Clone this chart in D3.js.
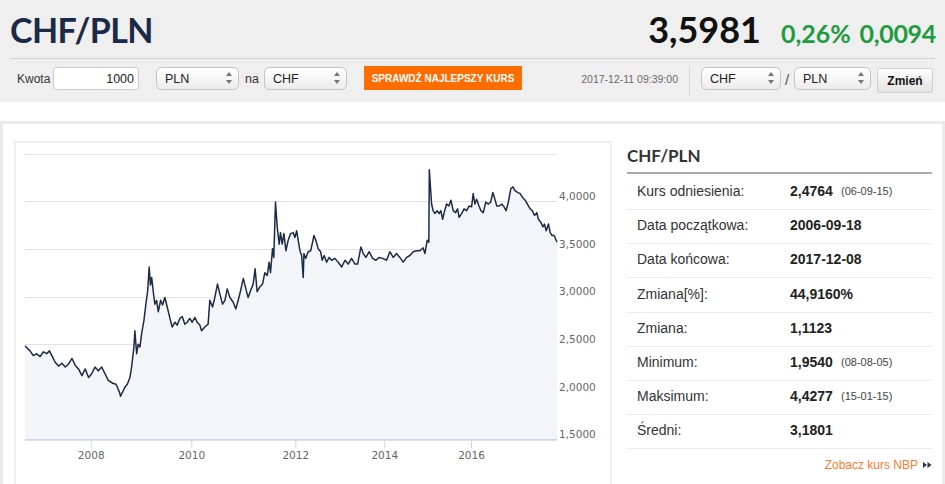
<!DOCTYPE html>
<html>
<head>
<meta charset="utf-8">
<script src="https://cdn.jsdelivr.net/npm/d3@7"></script>
<style>
  body { margin: 0; background: #fff; }
  svg { display: block; }
</style>
</head>
<body>
<svg id="chart" width="945" height="484"></svg>
<script>
// ---- data ----
const series = [
  ["2006-09-18", 2.48], ["2006-10-24", 2.43], ["2006-11-16", 2.38], ["2006-12-11", 2.40],
  ["2007-01-04", 2.37], ["2007-01-28", 2.42], ["2007-02-21", 2.40], ["2007-03-12", 2.43],
  ["2007-03-29", 2.38], ["2007-04-22", 2.31], ["2007-05-16", 2.27], ["2007-06-09", 2.30],
  ["2007-07-03", 2.26], ["2007-07-26", 2.29], ["2007-08-20", 2.35], ["2007-09-12", 2.28],
  ["2007-10-06", 2.24], ["2007-10-30", 2.17], ["2007-11-23", 2.24], ["2007-12-17", 2.15],
  ["2008-01-08", 2.19], ["2008-02-01", 2.26], ["2008-02-25", 2.22], ["2008-03-21", 2.26],
  ["2008-04-14", 2.19], ["2008-05-08", 2.12], ["2008-06-09", 2.09], ["2008-07-03", 2.08],
  ["2008-07-27", 2.00], ["2008-08-05", 1.954], ["2008-09-06", 2.05], ["2008-09-23", 2.08],
  ["2008-10-12", 2.15], ["2008-10-24", 2.26], ["2008-11-10", 2.47], ["2008-11-17", 2.64],
  ["2008-11-30", 2.40], ["2008-12-11", 2.50], ["2008-12-24", 2.47], ["2009-01-05", 2.61],
  ["2009-01-22", 2.75], ["2009-02-05", 2.92], ["2009-02-18", 3.06], ["2009-03-01", 3.31],
  ["2009-03-10", 3.12], ["2009-03-19", 3.20], ["2009-03-30", 3.06], ["2009-04-11", 2.92],
  ["2009-04-24", 2.96], ["2009-05-06", 2.84], ["2009-05-23", 2.96], ["2009-06-06", 2.91],
  ["2009-06-23", 2.99], ["2009-07-10", 2.89], ["2009-07-30", 2.77], ["2009-08-15", 2.68],
  ["2009-09-04", 2.73], ["2009-09-20", 2.70], ["2009-10-10", 2.77], ["2009-10-27", 2.79],
  ["2009-11-15", 2.71], ["2009-12-02", 2.73], ["2009-12-21", 2.77], ["2010-01-07", 2.73],
  ["2010-01-27", 2.78], ["2010-02-11", 2.73], ["2010-03-02", 2.70], ["2010-03-14", 2.64],
  ["2010-04-06", 2.68], ["2010-04-29", 2.71], ["2010-05-11", 2.96], ["2010-05-30", 2.89],
  ["2010-06-15", 2.99], ["2010-07-04", 3.13], ["2010-07-20", 3.03], ["2010-08-08", 2.92],
  ["2010-08-25", 2.96], ["2010-09-10", 3.08], ["2010-09-29", 2.99], ["2010-10-22", 2.94],
  ["2010-11-10", 2.87], ["2010-11-26", 2.96], ["2010-12-13", 3.06], ["2011-01-01", 3.19],
  ["2011-01-19", 3.08], ["2011-02-04", 2.99], ["2011-02-21", 3.06], ["2011-03-11", 3.13],
  ["2011-03-25", 3.29], ["2011-04-08", 3.05], ["2011-04-27", 3.10], ["2011-05-16", 3.13],
  ["2011-06-01", 3.25], ["2011-06-18", 3.22], ["2011-07-01", 3.36], ["2011-07-11", 3.25],
  ["2011-07-25", 3.50], ["2011-08-03", 3.41], ["2011-08-15", 3.99], ["2011-08-27", 3.73],
  ["2011-09-10", 3.55], ["2011-09-19", 3.67], ["2011-10-01", 3.55], ["2011-10-13", 3.66],
  ["2011-10-27", 3.48], ["2011-11-12", 3.59], ["2011-11-29", 3.66], ["2011-12-17", 3.67],
  ["2011-12-30", 3.62], ["2012-01-12", 3.69], ["2012-01-25", 3.59], ["2012-02-08", 3.48],
  ["2012-02-22", 3.43], ["2012-03-06", 3.20], ["2012-03-12", 3.45], ["2012-03-26", 3.40],
  ["2012-04-16", 3.47], ["2012-05-06", 3.48], ["2012-05-22", 3.57], ["2012-06-02", 3.64],
  ["2012-06-18", 3.59], ["2012-07-07", 3.50], ["2012-07-27", 3.47], ["2012-08-09", 3.38],
  ["2012-08-25", 3.43], ["2012-09-14", 3.36], ["2012-10-05", 3.41], ["2012-10-25", 3.38],
  ["2012-11-21", 3.40], ["2012-12-18", 3.36], ["2013-01-16", 3.31], ["2013-02-12", 3.38],
  ["2013-03-11", 3.34], ["2013-04-07", 3.40], ["2013-05-05", 3.34], ["2013-05-27", 3.34],
  ["2013-06-23", 3.52], ["2013-07-12", 3.45], ["2013-08-03", 3.41], ["2013-08-30", 3.47],
  ["2013-09-27", 3.40], ["2013-10-24", 3.38], ["2013-11-20", 3.41], ["2013-12-18", 3.40],
  ["2014-01-20", 3.38], ["2014-02-17", 3.47], ["2014-03-17", 3.41], ["2014-04-14", 3.45],
  ["2014-05-12", 3.41], ["2014-06-09", 3.36], ["2014-07-08", 3.41], ["2014-08-04", 3.43],
  ["2014-09-01", 3.47], ["2014-09-30", 3.48], ["2014-10-28", 3.48], ["2014-11-24", 3.51],
  ["2014-12-09", 3.45], ["2014-12-28", 3.59], ["2015-01-11", 3.57], ["2015-01-15", 4.33],
  ["2015-02-03", 3.97], ["2015-02-16", 3.90], ["2015-03-03", 3.87], ["2015-03-22", 3.90],
  ["2015-04-08", 3.87], ["2015-04-22", 3.90], ["2015-05-07", 3.81], ["2015-05-20", 3.88],
  ["2015-06-09", 3.97], ["2015-06-29", 3.95], ["2015-07-16", 4.01], ["2015-08-04", 3.90],
  ["2015-08-24", 3.88], ["2015-09-10", 3.92], ["2015-09-23", 3.83], ["2015-10-14", 3.87],
  ["2015-11-04", 3.92], ["2015-11-25", 3.90], ["2015-12-17", 3.95], ["2016-01-06", 3.94],
  ["2016-01-19", 4.08], ["2016-02-02", 3.97], ["2016-02-16", 4.02], ["2016-03-07", 3.95],
  ["2016-03-23", 3.90], ["2016-04-11", 3.88], ["2016-05-01", 3.99], ["2016-05-23", 3.97],
  ["2016-06-11", 3.99], ["2016-06-28", 4.09], ["2016-07-11", 4.04], ["2016-07-31", 3.95],
  ["2016-08-19", 3.95], ["2016-09-10", 3.97], ["2016-09-29", 3.94], ["2016-10-15", 3.90],
  ["2016-11-03", 3.99], ["2016-11-23", 4.13], ["2016-12-10", 4.15], ["2016-12-28", 4.11],
  ["2017-01-20", 4.09], ["2017-02-08", 4.08], ["2017-02-27", 4.04], ["2017-03-21", 4.01],
  ["2017-04-09", 3.97], ["2017-05-01", 3.92], ["2017-05-20", 3.90], ["2017-06-06", 3.85],
  ["2017-06-25", 3.88], ["2017-07-08", 3.81], ["2017-07-28", 3.78], ["2017-08-14", 3.73],
  ["2017-08-27", 3.76], ["2017-09-10", 3.69], ["2017-09-29", 3.76], ["2017-10-13", 3.67],
  ["2017-10-29", 3.64], ["2017-11-15", 3.64], ["2017-12-01", 3.59], ["2017-12-08", 3.57]
];

const yTicks = [1.5, 2, 2.5, 3, 3.5, 4, 4.5];
const xTickYears = [2008, 2010, 2012, 2014, 2016];

const pairName = "CHF/PLN";
const lastRate = "3,5981";
const changePct = "0,26%";
const changeAbs = "0,0094";
const quoteTime = "2017-12-11 09:39:00";

const statLabels = ["Kurs odniesienia:", "Data początkowa:", "Data końcowa:", "Zmiana[%]:",
                    "Zmiana:", "Minimum:", "Maksimum:", "Średni:"];
const statValues = ["2,4764", "2006-09-18", "2017-12-08", "44,9160%",
                    "1,1123", "1,9540", "4,4277", "3,1801"];
const statNotes  = ["(06-09-15)", "", "", "", "", "(08-08-05)", "(15-01-15)", ""];

// ---- setup ----
const svg = d3.select("#chart");
const sans = "'Liberation Sans', Arial, sans-serif";
const hfont = "Lato, 'Open Sans', sans-serif";
const axisFont = "'DejaVu Sans', Verdana, sans-serif";

const defs = svg.append("defs");
let g1 = defs.append("linearGradient").attr("id", "selGrad").attr("x1", 0).attr("y1", 0).attr("x2", 0).attr("y2", 1);
g1.append("stop").attr("offset", "0%").attr("stop-color", "#ffffff");
g1.append("stop").attr("offset", "100%").attr("stop-color", "#ececec");
let g2 = defs.append("linearGradient").attr("id", "btnGrad").attr("x1", 0).attr("y1", 0).attr("x2", 0).attr("y2", 1);
g2.append("stop").attr("offset", "0%").attr("stop-color", "#ffffff");
g2.append("stop").attr("offset", "100%").attr("stop-color", "#e2e2e2");

// ---- header ----
svg.append("rect").attr("x", 0).attr("y", 0).attr("width", 945).attr("height", 102).attr("fill", "#efefef");

svg.append("text").attr("x", 10).attr("y", 43)
  .style("font", `700 34px ${hfont}`).style("letter-spacing", "-0.6px")
  .attr("fill", "#1b2a47").text(pairName);
svg.append("text").attr("x", 761).attr("y", 43).attr("text-anchor", "end")
  .style("font", `700 36px ${hfont}`).attr("fill", "#111").text(lastRate);
svg.append("text").attr("x", 781).attr("y", 43)
  .style("font", `700 25px ${hfont}`).attr("fill", "#1e9b40").text(changePct);
svg.append("text").attr("x", 936).attr("y", 43).attr("text-anchor", "end")
  .style("font", `700 25px ${hfont}`).style("letter-spacing", "-0.3px").attr("fill", "#1e9b40").text(changeAbs);

svg.append("line").attr("x1", 10).attr("x2", 935).attr("y1", 58.5).attr("y2", 58.5)
  .attr("stroke", "#d3d3d3");

function label(x, y, txt, opts = {}) {
  return svg.append("text").attr("x", x).attr("y", y)
    .attr("text-anchor", opts.anchor || "start")
    .style("font", `${opts.weight || 400} ${opts.size || 12}px ${opts.family || sans}`)
    .attr("fill", opts.color || "#333").text(txt);
}

function selectBox(x, w, txt) {
  svg.append("rect").attr("x", x + 0.5).attr("y", 67.5).attr("width", w).attr("height", 22)
    .attr("rx", 5).attr("fill", "url(#selGrad)").attr("stroke", "#c3c3c3");
  label(x + 9, 82.5, txt, { size: 12.5, color: "#222" });
  const ax = x + w - 9;
  svg.append("path").attr("d", `M${ax - 3},76 L${ax + 3},76 L${ax},72 Z M${ax - 3},80 L${ax + 3},80 L${ax},84 Z`)
    .attr("fill", "#777");
}

label(17, 82.5, "Kwota");
svg.append("rect").attr("x", 53.5).attr("y", 67.5).attr("width", 85).attr("height", 22)
  .attr("rx", 3).attr("fill", "#fff").attr("stroke", "#cbcbcb");
label(134, 83, "1000", { anchor: "end", size: 12.5, color: "#222" });

selectBox(156, 82, "PLN");
label(245, 82.5, "na", { size: 12.5 });
selectBox(264, 82, "CHF");

svg.append("rect").attr("x", 364).attr("y", 66).attr("width", 158).attr("height", 24).attr("fill", "#ff6c00");
label(443, 82, "SPRAWDŹ NAJLEPSZY KURS", { anchor: "middle", size: 10, weight: 700, color: "#fff" });

label(678, 82.5, quoteTime, { anchor: "end", size: 10.5, color: "#6a6a6a" });
svg.append("line").attr("x1", 689.5).attr("x2", 689.5).attr("y1", 66).attr("y2", 95).attr("stroke", "#d6d6d6");

selectBox(701, 79, "CHF");
label(785, 85, "/", { size: 15, color: "#555" });
selectBox(794, 76, "PLN");

svg.append("rect").attr("x", 877.5).attr("y", 68.5).attr("width", 55).attr("height", 24)
  .attr("rx", 2).attr("fill", "url(#btnGrad)").attr("stroke", "#cfcfcf");
label(905, 85, "Zmień", { anchor: "middle", size: 12, weight: 700, color: "#111" });

// ---- panels ----
svg.append("rect").attr("x", 1.5).attr("y", 122.5).attr("width", 942).attr("height", 380)
  .attr("fill", "#fff").attr("stroke", "#ebebeb").attr("stroke-width", 3);
svg.append("rect").attr("x", 15).attr("y", 142).attr("width", 596).attr("height", 360)
  .attr("fill", "#fff").attr("stroke", "#f0f0f0").attr("stroke-width", 2);

// ---- chart ----
const parse = d3.timeParse("%Y-%m-%d");
const data = series.map(d => ({ date: parse(d[0]), value: d[1] }));

// Highcharts' ordinal axis is not uniform in time; piecewise anchors follow the year ticks
const xAnchorDates = ["2006-09-18", "2008-01-01", "2010-01-01", "2012-01-01", "2014-01-01", "2016-01-01", "2017-12-08"].map(parse);
const xAnchorPx = [25, 90.7, 191.3, 295.3, 384.3, 471, 557];
const x = d3.scaleTime().domain(xAnchorDates).range(xAnchorPx);
const y = d3.scaleLinear().domain([1.5, 4.5]).range([439.5, 153.5]);

const plot = svg.append("g");

plot.selectAll("line.grid").data(yTicks).join("line").attr("class", "grid")
  .attr("x1", 25).attr("x2", 557).attr("y1", d => Math.round(y(d)) + 0.5).attr("y2", d => Math.round(y(d)) + 0.5)
  .attr("stroke", "#e2e2e2");

const area = d3.area().x(d => x(d.date)).y0(y(1.5)).y1(d => y(d.value));
plot.append("path").datum(data).attr("d", area).attr("fill", "#f4f5f8");

// x axis
const xAxis = d3.axisBottom(x)
  .tickValues(xTickYears.map(yr => new Date(yr, 0, 1)))
  .tickFormat(d3.timeFormat("%Y"))
  .tickSize(9).tickPadding(3);
const gx = plot.append("g").attr("transform", `translate(0,${y(1.5)})`).call(xAxis);
gx.select(".domain").remove();
gx.selectAll(".tick line").attr("stroke", "#ccd6eb");
gx.selectAll(".tick text").style("font", `10.5px ${axisFont}`).attr("fill", "#666");
plot.append("line").attr("x1", 25).attr("x2", 557).attr("y1", y(1.5)).attr("y2", y(1.5))
  .attr("stroke", "#ccd6eb");

// y axis labels on the right
const fmt = v => d3.format(".4f")(v).replace(".", ",");
const yAxis = d3.axisRight(y).tickValues(yTicks.filter(v => v < 4.5)).tickFormat(fmt).tickSize(0).tickPadding(2);
const gy = plot.append("g").attr("transform", "translate(557,-5)").call(yAxis);
gy.select(".domain").remove();
gy.selectAll(".tick text").style("font", `10.5px ${axisFont}`).attr("fill", "#666");

const line = d3.line().x(d => x(d.date)).y(d => y(d.value));
plot.append("path").datum(data).attr("d", line)
  .attr("fill", "none").attr("stroke", "#1c2b46").attr("stroke-width", 1.5)
  .attr("stroke-linejoin", "round");

// ---- stats side panel ----
label(627, 162, pairName, { size: 17, weight: 700, family: hfont, color: "#333" });
svg.append("line").attr("x1", 627).attr("x2", 932).attr("y1", 173).attr("y2", 173)
  .attr("stroke", "#a9a9a9").attr("stroke-width", 2);

const rowH = 34.2;
statLabels.forEach((lab, i) => {
  const base = 196 + rowH * i;
  label(637, base, lab, { size: 14, color: "#333" });
  label(790, base, statValues[i], { size: 14, weight: 700, color: "#222" });
  if (statNotes[i]) label(841, base - 1, statNotes[i], { size: 11, color: "#444" });
  const sy = Math.round(209 + rowH * i) + 0.5;
  svg.append("line").attr("x1", 627).attr("x2", 932).attr("y1", sy).attr("y2", sy).attr("stroke", "#ececec");
});

label(918, 469, "Zobacz kurs NBP", { anchor: "end", size: 12, color: "#ff7b2c" });
svg.append("path").attr("d", "M923,462 L927,465 L923,468 Z M927.5,462 L931.5,465 L927.5,468 Z").attr("fill", "#333");
</script>
</body>
</html>
